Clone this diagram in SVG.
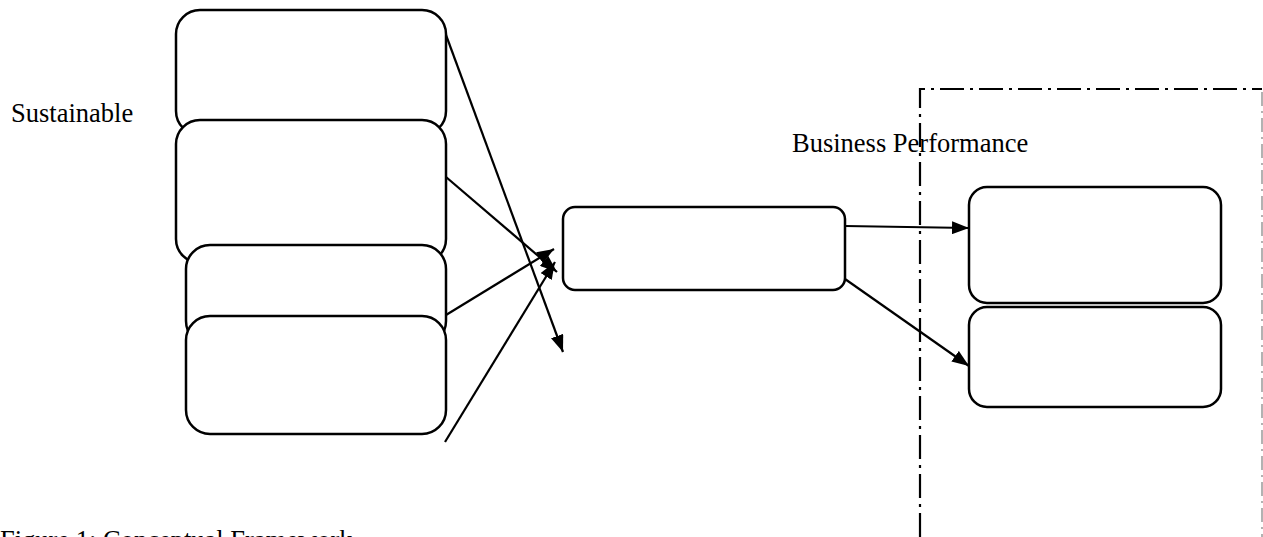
<svg xmlns="http://www.w3.org/2000/svg" width="1263" height="537" viewBox="0 0 1263 537">
  <defs>
    <marker id="arrow" viewBox="0 0 17 13" refX="17" refY="6.5" markerWidth="17" markerHeight="13" markerUnits="userSpaceOnUse" orient="auto">
      <path d="M0,0 L17,6.5 L0,13 Z" fill="#000"/>
    </marker>
    <style>
      .box { fill: #fff; stroke: #000; stroke-width: 2.5; }
      .link { fill: none; stroke: #000; stroke-width: 2.2; marker-end: url(#arrow); }
      .label { font-family: "Liberation Serif", "Times New Roman", serif; font-size: 26.5px; fill: #000; }
      .frame { fill: none; stroke: #000; stroke-width: 2.2; stroke-dasharray: 24 6 3 6; }
      .frame-edge { fill: none; stroke: #999; stroke-width: 1.5; stroke-dasharray: 14 5 2 5; }
    </style>
  </defs>
  <rect width="1263" height="537" fill="#fff"/>

  <!-- Business performance boundary (dash-dot) -->
  <g id="boundary">
    <path class="frame" d="M920,537 L920,89 L1262,89"/>
    <path class="frame-edge" d="M1262,92 L1262,537"/>
  </g>

  <!-- Left stack of input nodes -->
  <g id="node-a"><rect class="box" x="176" y="10" width="270" height="125" rx="24"/></g>
  <g id="node-b"><rect class="box" x="176" y="120" width="270" height="143" rx="24"/></g>
  <g id="node-c"><rect class="box" x="186" y="245" width="260" height="100" rx="24"/></g>
  <g id="node-d"><rect class="box" x="186" y="316" width="260" height="118" rx="24"/></g>

  <!-- Central node -->
  <g id="node-center"><rect class="box" x="563" y="207" width="282" height="83" rx="12"/></g>

  <!-- Outcome nodes -->
  <g id="node-e"><rect class="box" x="969" y="187" width="252" height="116" rx="18"/></g>
  <g id="node-f"><rect class="box" x="969" y="307" width="252" height="100" rx="18"/></g>

  <!-- Connectors -->
  <g id="connectors">
    <line class="link" x1="446" y1="35" x2="563" y2="352"/>
    <line class="link" x1="446" y1="177" x2="557" y2="272"/>
    <line class="link" x1="446" y1="315" x2="554" y2="249"/>
    <line class="link" x1="445" y1="442" x2="555" y2="262"/>
    <line class="link" x1="845" y1="226" x2="969" y2="228"/>
    <line class="link" x1="845" y1="279" x2="969" y2="366"/>
  </g>

  <!-- Labels -->
  <g id="labels">
    <text class="label" x="11" y="122">Sustainable</text>
    <text class="label" x="792" y="152">Business Performance</text>
    <text class="label" x="0" y="549">Figure 1: Conceptual Framework</text>
  </g>
</svg>
